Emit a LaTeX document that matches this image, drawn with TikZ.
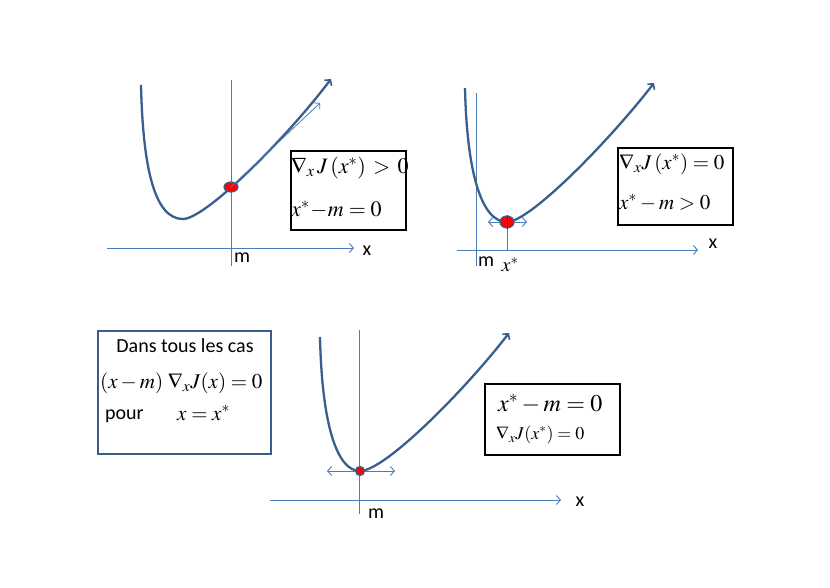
\documentclass[tikz,border=0pt]{standalone}
\usepackage{mathptmx}
\usepackage{fontspec}
\setmainfont{Carlito}
\usetikzlibrary{arrows.meta,shapes.geometric}
\definecolor{curveblue}{RGB}{58,95,143}
\definecolor{axisblue}{RGB}{74,126,187}
\definecolor{boxblue}{RGB}{56,93,138}
\tikzset{
  curveline/.style={draw=curveblue, line width=2.3pt, -{Straight Barb[length=4pt,width=9pt,line width=1.6pt]}},
  axisline/.style={draw=axisblue, line width=0.9pt},
  axisarrow/.style={axisline, -{Straight Barb[length=4pt,width=9pt]}},
  dblarrow/.style={axisline, {Straight Barb[length=4pt,width=9pt]}-{Straight Barb[length=4pt,width=9pt]}},
  dotmark/.style={ellipse, draw=curveblue, fill=red, line width=1.2pt, inner sep=0pt},
  blackbox/.style={draw=black, line width=1.5pt, inner sep=0pt, anchor=north west},
  bluebox/.style={draw=boxblue, line width=1.8pt, inner sep=0pt, anchor=north west},
  lbl/.style={inner sep=0pt, font=\fontsize{20}{22}\selectfont},
  mtext/.style={inner sep=0pt, anchor=west},
}
\begin{document}
\begin{tikzpicture}[x=1pt,y=-1pt]
\useasboundingbox[fill=white] (0,0) rectangle (830,587);

% ---------- Panel 1 ----------
\coordinate (a1l) at (107,248); \coordinate (a1r) at (354,248);
\coordinate (v1t) at (231,80); \coordinate (v1b) at (231,266);
\draw[axisarrow] (a1l) -- (a1r);
\draw[axisline] (v1t) -- (v1b);
\coordinate (c1s) at (141,85); \coordinate (c1m) at (183,219); \coordinate (c1e) at (331,79);
\draw[curveline] (c1s) .. controls (143,170) and (155,219) .. (c1m)
      .. controls (205,219) and (285,140) .. (c1e);
\node[dotmark, minimum width=14pt, minimum height=10pt] (d1) at (231,187) {};
\coordinate (t1e) at (320,103);
\draw[axisarrow, line width=0.8pt] (d1.center) -- (t1e);
\node[lbl] (x1) at (367,251) {x};
\node[lbl] (m1) at (242,258) {m};
\node[blackbox, minimum width=115pt, minimum height=79pt] (b1) at (290,150) {};
\node[mtext, font=\fontsize{22}{24}\selectfont] (b1a) at (291,168) {$\nabla_{x}\,J\,(x^{*})\,>\,0$};
\node[mtext, font=\fontsize{22}{24}\selectfont] (b1b) at (291,210) {$x^{*}\!-\!m=0$};

% ---------- Panel 2 ----------
\coordinate (a2l) at (457,250); \coordinate (a2r) at (698,250);
\coordinate (v2t) at (476,93); \coordinate (v2b) at (476,266);
\draw[axisarrow] (a2l) -- (a2r);
\draw[axisline] (v2t) -- (v2b);
\coordinate (c2s) at (465,88); \coordinate (c2m) at (507,222); \coordinate (c2e) at (654,83);
\draw[curveline] (c2s) .. controls (467,175) and (482,222) .. (c2m)
      .. controls (530,222) and (610,140) .. (c2e);
\coordinate (h2l) at (488,222); \coordinate (h2r) at (527,222);
\draw[dblarrow] (h2l) -- (h2r);
\coordinate (p2) at (507,250);
\draw[axisline] (c2m) -- (p2);
\node[dotmark, minimum width=14pt, minimum height=12pt] (d2) at (c2m) {};
\draw[red!70!black, line width=0.6pt] (d2.north) -- (d2.south);
\node[lbl] (x2) at (713,244) {x};
\node[lbl] (m2) at (486,262) {m};
\node[inner sep=0pt, font=\fontsize{20}{22}\selectfont] (xs2) at (510,265) {$x^{*}$};
\node[blackbox, minimum width=115pt, minimum height=77pt] (b2) at (617,147) {};
\node[mtext, font=\fontsize{21}{23}\selectfont] (b2a) at (619,164) {$\nabla_{x}J\,(x^{*})=0$};
\node[mtext, font=\fontsize{21}{23}\selectfont] (b2b) at (619,203) {$x^{*}-m>0$};

% ---------- Panel 3 ----------
\node[bluebox, minimum width=173pt, minimum height=123pt] (b3) at (97,330) {};
\node[lbl] (b3a) at (185,346) {Dans tous les cas};
\node[mtext, font=\fontsize{21}{23}\selectfont] (b3b) at (100,383) {$(x-m)\;\nabla_{x}J(x)=0$};
\node[lbl, anchor=west] (b3c) at (105,416) {pour};
\node[mtext, font=\fontsize{21}{23}\selectfont] (b3d) at (177,413) {$x=x^{*}$};

\coordinate (a3l) at (270,500); \coordinate (a3r) at (561,500);
\coordinate (v3t) at (359,330); \coordinate (v3b) at (359,514);
\draw[axisarrow] (a3l) -- (a3r);
\draw[axisline] (v3t) -- (v3b);
\coordinate (c3s) at (320,337); \coordinate (c3m) at (360,471); \coordinate (c3e) at (509,333);
\draw[curveline] (c3s) .. controls (322,425) and (337,471) .. (c3m)
      .. controls (385,471) and (465,390) .. (c3e);
\coordinate (h3l) at (327,471); \coordinate (h3r) at (395,471);
\draw[dblarrow] (h3l) -- (h3r);
\node[dotmark, minimum width=9pt, minimum height=9pt] (d3) at (c3m) {};
\node[lbl] (x3) at (580,502) {x};
\node[lbl] (m3) at (376,514) {m};
\node[blackbox, minimum width=135pt, minimum height=71pt] (b4) at (484,383) {};
\node[mtext, font=\fontsize{24}{26}\selectfont] (b4a) at (498,404) {$x^{*}-m=0$};
\node[mtext, font=\fontsize{18}{20}\selectfont] (b4b) at (496,435) {$\nabla_{x}J(x^{*})=0$};
\end{tikzpicture}
\end{document}
